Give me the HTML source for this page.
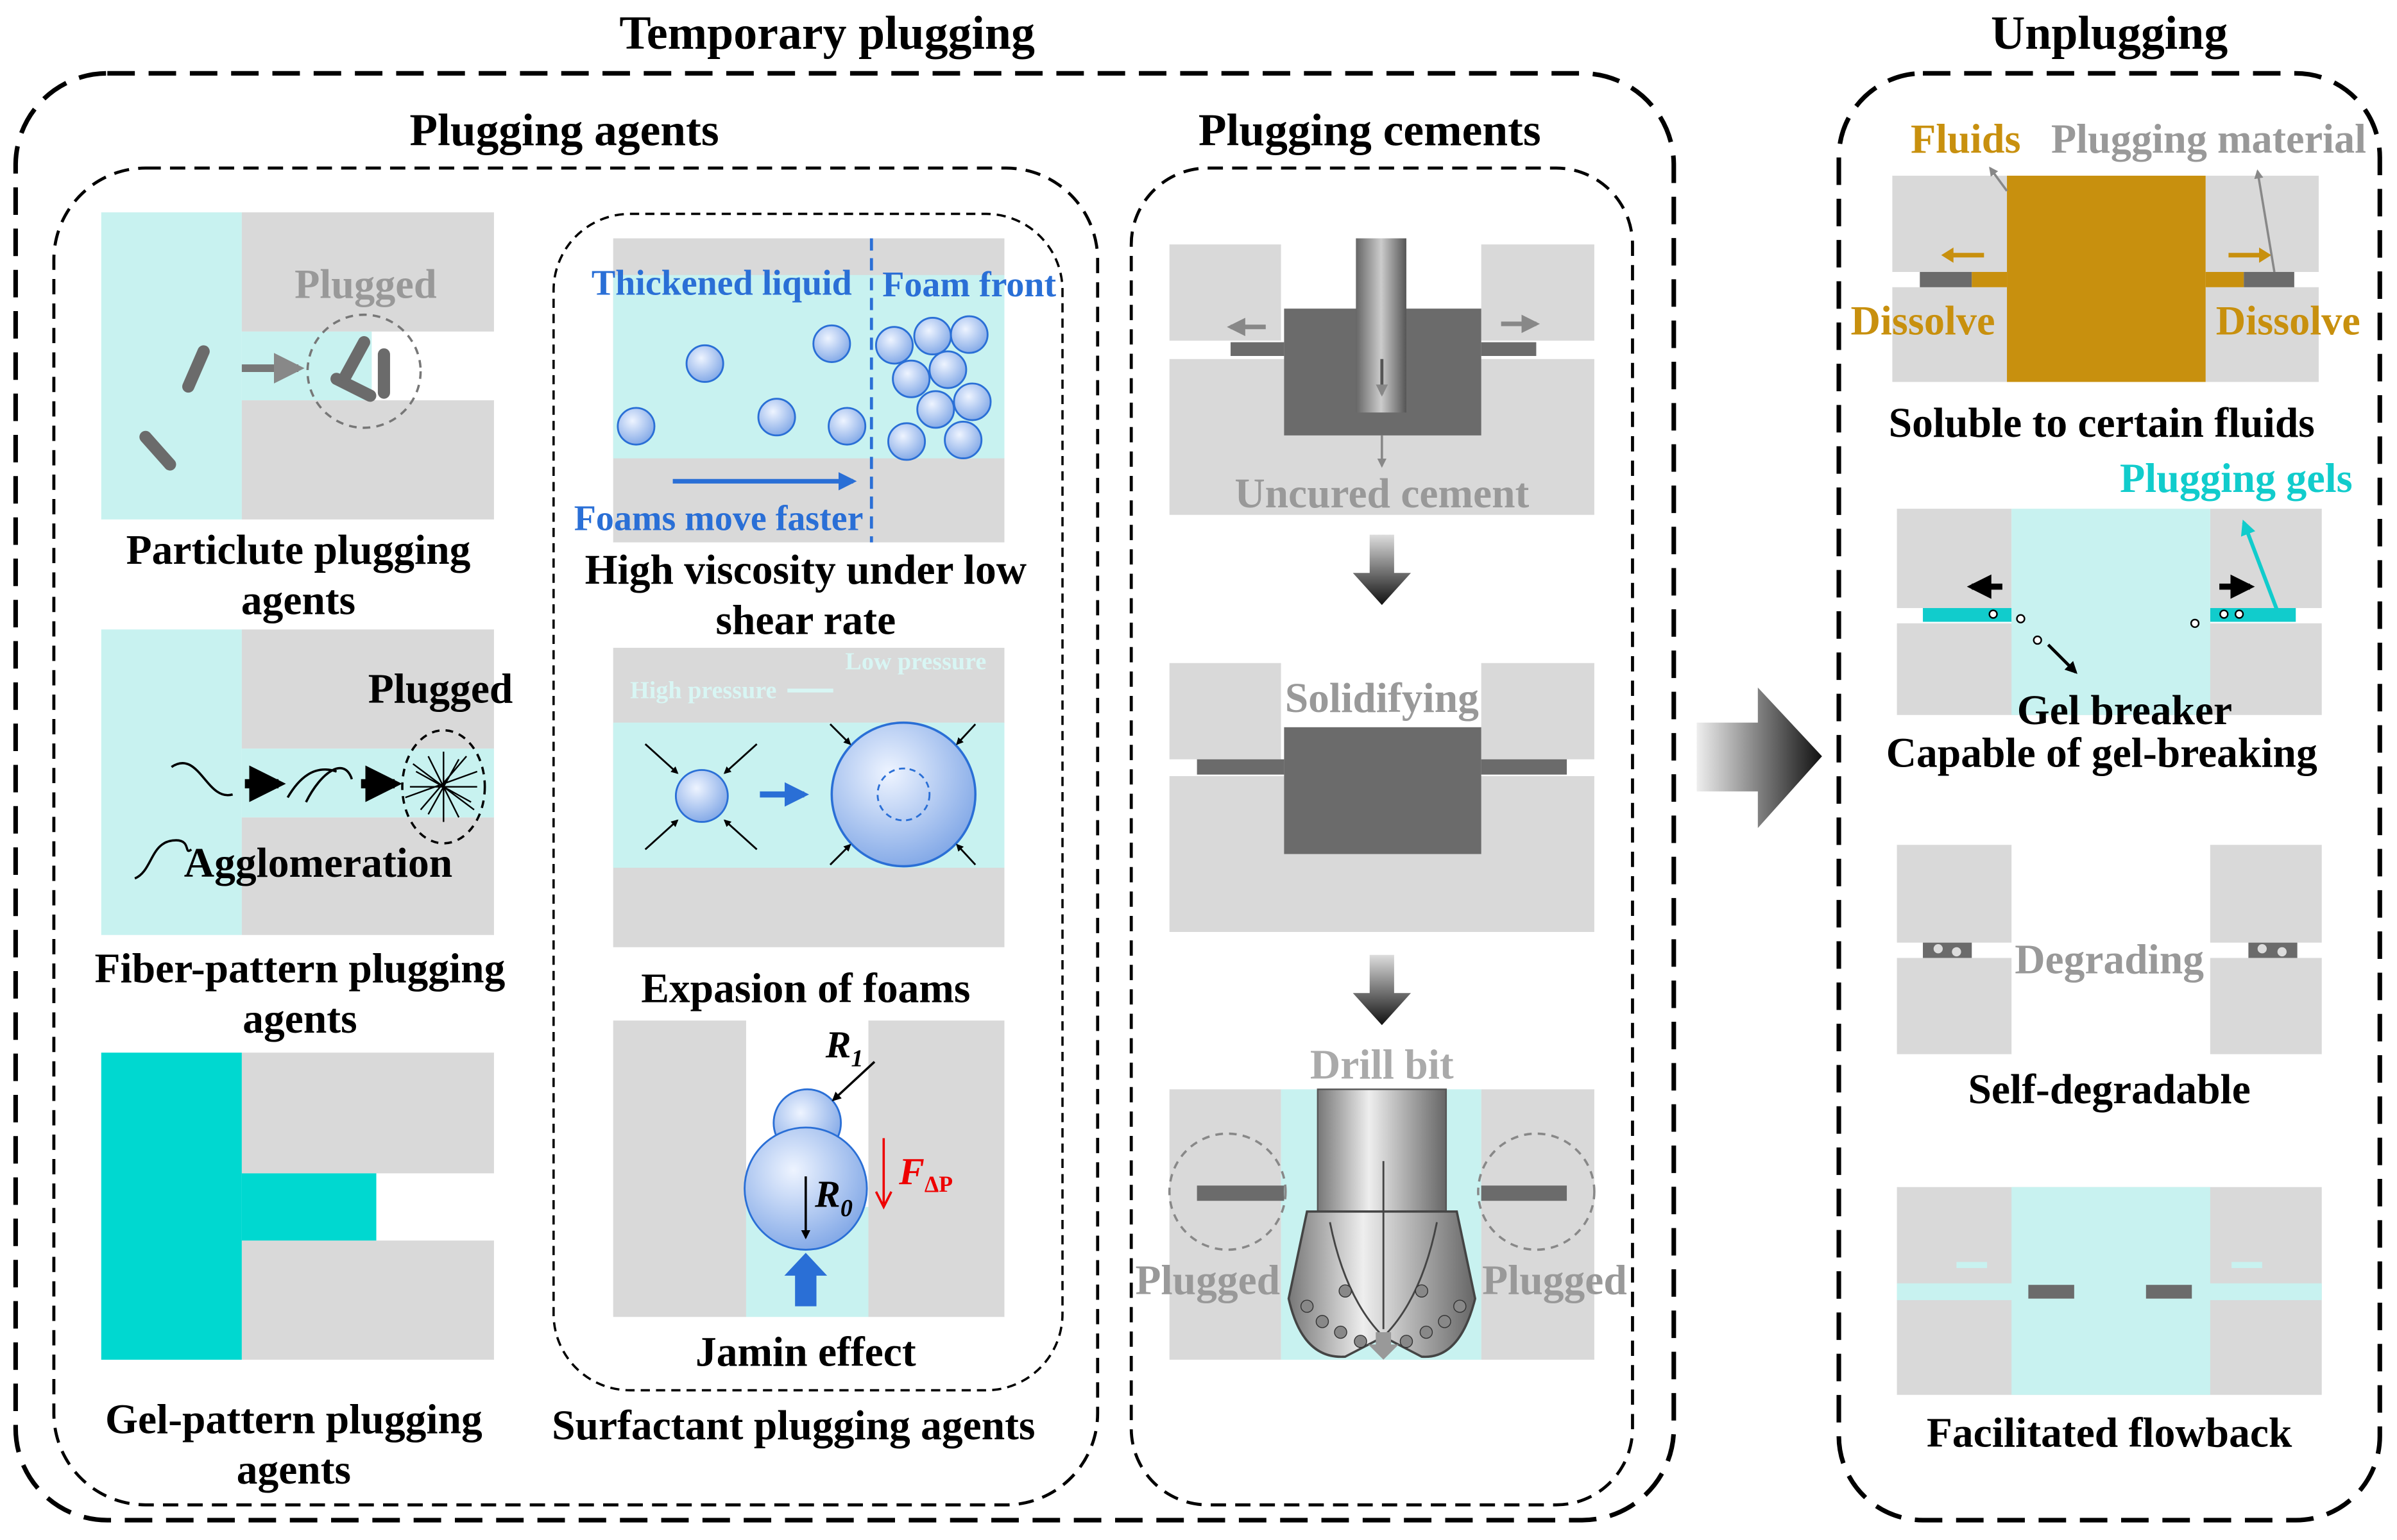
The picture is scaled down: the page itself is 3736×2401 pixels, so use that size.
<!DOCTYPE html>
<html><head><meta charset="utf-8"><style>
html,body{margin:0;padding:0;background:#fff;}
svg{display:block;}
text{font-family:"Liberation Serif",serif;font-weight:bold;}
</style></head><body>
<svg width="3736" height="2401" viewBox="0 0 1568 1008" xmlns="http://www.w3.org/2000/svg">
<defs>
<radialGradient id="bub" cx="0.4" cy="0.35" r="0.7"><stop offset="0" stop-color="#eef4ff"/><stop offset="1" stop-color="#7fa6e6"/></radialGradient>
<linearGradient id="ar" x1="0" y1="0" x2="0" y2="1"><stop offset="0" stop-color="#ddd"/><stop offset="1" stop-color="#111"/></linearGradient>
<linearGradient id="arh" x1="0" y1="0" x2="1" y2="0"><stop offset="0" stop-color="#eee"/><stop offset="1" stop-color="#111"/></linearGradient>
<linearGradient id="pipe" x1="0" y1="0" x2="1" y2="0"><stop offset="0" stop-color="#666"/><stop offset="0.5" stop-color="#ccc"/><stop offset="1" stop-color="#555"/></linearGradient>
<linearGradient id="bit" x1="0" y1="0" x2="1" y2="0"><stop offset="0" stop-color="#777"/><stop offset="0.4" stop-color="#eee"/><stop offset="1" stop-color="#666"/></linearGradient>
<marker id="mk" viewBox="0 0 10 10" refX="8" refY="5" markerWidth="4" markerHeight="4" orient="auto"><path d="M0,0L10,5L0,10z" fill="#000"/></marker>
<marker id="mkb" viewBox="0 0 10 10" refX="8" refY="5" markerWidth="4" markerHeight="4" orient="auto"><path d="M0,0L10,5L0,10z" fill="#2a6fd6"/></marker>
<marker id="mkg" viewBox="0 0 10 10" refX="8" refY="5" markerWidth="4" markerHeight="4" orient="auto"><path d="M0,0L10,5L0,10z" fill="#888"/></marker>
<marker id="mkt" viewBox="0 0 10 10" refX="8" refY="5" markerWidth="4" markerHeight="4" orient="auto"><path d="M0,0L10,5L0,10z" fill="#11cccc"/></marker>
</defs>

<text x="541" y="32" font-size="31" text-anchor="middle">Temporary plugging</text>
<text x="1380" y="32" font-size="31" text-anchor="middle">Unplugging</text>
<text x="369" y="95" font-size="30" text-anchor="middle">Plugging agents</text>
<text x="896" y="95" font-size="30" text-anchor="middle">Plugging cements</text>

<rect x="10" y="48" width="1085" height="947" rx="60" fill="none" stroke="#000" stroke-width="3" stroke-dasharray="18 9"/>
<rect x="1203" y="48" width="354" height="947" rx="55" fill="none" stroke="#000" stroke-width="3" stroke-dasharray="18 9"/>
<rect x="35" y="110" width="683" height="875" rx="60" fill="none" stroke="#000" stroke-width="2" stroke-dasharray="10 6"/>
<rect x="362" y="140" width="333" height="770" rx="50" fill="none" stroke="#000" stroke-width="1.5" stroke-dasharray="6 4"/>
<rect x="740" y="110" width="328" height="875" rx="50" fill="none" stroke="#000" stroke-width="2" stroke-dasharray="10 6"/>

<polygon points="1110,473 1150,473 1150,450 1192,495 1150,542 1150,518 1110,518" fill="url(#arh)"/>

<!-- Particulate -->
<rect x="66" y="139" width="92" height="201" fill="#c8f2f0"/>
<rect x="158" y="139" width="165" height="78" fill="#d9d9d9"/>
<rect x="158" y="262" width="165" height="78" fill="#d9d9d9"/>
<rect x="158" y="217" width="85" height="45" fill="#c8f2f0"/>
<text x="239" y="195" font-size="27" fill="#999" text-anchor="middle">Plugged</text>
<g stroke="#6b6b6b" stroke-width="8" stroke-linecap="round">
<line x1="123" y1="253" x2="133" y2="230"/><line x1="95" y1="286" x2="111" y2="304"/>
<line x1="220" y1="248" x2="242" y2="259"/><line x1="226" y1="246" x2="238" y2="224"/><line x1="251" y1="232" x2="251" y2="257"/>
</g>
<line x1="158" y1="241" x2="195" y2="241" stroke="#777" stroke-width="5" marker-end="url(#mkg)"/>
<circle cx="238" cy="243" r="37" fill="none" stroke="#777" stroke-width="1.5" stroke-dasharray="5 4"/>
<text x="195" y="369" font-size="27.5" text-anchor="middle">Particlute plugging</text>
<text x="195" y="402" font-size="27.5" text-anchor="middle">agents</text>

<!-- Fiber -->
<rect x="66" y="412" width="92" height="200" fill="#c8f2f0"/>
<rect x="158" y="412" width="165" height="78" fill="#d9d9d9"/>
<rect x="158" y="535" width="165" height="77" fill="#d9d9d9"/>
<rect x="158" y="490" width="165" height="45" fill="#c8f2f0"/>
<text x="288" y="460" font-size="27.5" text-anchor="middle">Plugged</text>
<path d="M112,502 C130,490 135,525 152,520" fill="none" stroke="#000" stroke-width="1.5"/>
<path d="M188,522 C195,510 205,500 220,505 M200,525 C210,505 225,495 230,510" fill="none" stroke="#000" stroke-width="1.5"/>
<path d="M88,575 C100,570 98,550 115,550 C125,550 120,560 125,556" fill="none" stroke="#000" stroke-width="1.5"/>
<g stroke="#000" stroke-width="1"><path d="M270,500 L310,530 M275,530 L305,495 M268,515 L312,515 M290,492 L290,538 M272,505 L308,525 M280,495 L300,535 M300,497 L280,533 M265,522 L312,505"/></g>
<line x1="160" y1="513" x2="182" y2="513" stroke="#000" stroke-width="6" marker-end="url(#mk)"/>
<line x1="236" y1="513" x2="258" y2="513" stroke="#000" stroke-width="6" marker-end="url(#mk)"/>
<ellipse cx="290" cy="515" rx="27" ry="37" fill="none" stroke="#000" stroke-width="1.5" stroke-dasharray="5 4"/>
<text x="208" y="574" font-size="27.5" text-anchor="middle">Agglomeration</text>
<text x="196" y="643" font-size="27.5" text-anchor="middle">Fiber-pattern plugging</text>
<text x="196" y="676" font-size="27.5" text-anchor="middle">agents</text>

<!-- Gel -->
<rect x="66" y="689" width="92" height="201" fill="#00d8d0"/>
<rect x="158" y="689" width="165" height="79" fill="#d9d9d9"/>
<rect x="158" y="812" width="165" height="78" fill="#d9d9d9"/>
<rect x="158" y="768" width="88" height="44" fill="#00d8d0"/>
<text x="192" y="938" font-size="27.5" text-anchor="middle">Gel-pattern plugging</text>
<text x="192" y="971" font-size="27.5" text-anchor="middle">agents</text>

<!-- Surfactant panel 1 -->
<rect x="401" y="156" width="256" height="199" fill="#d9d9d9"/>
<rect x="401" y="180" width="256" height="120" fill="#c8f2f0"/>
<line x1="570" y1="156" x2="570" y2="355" stroke="#2a6fd6" stroke-width="2" stroke-dasharray="8 5"/>
<g fill="url(#bub)" stroke="#2a6fd6" stroke-width="1.2">
<circle cx="461" cy="238" r="12"/><circle cx="544" cy="225" r="12"/><circle cx="416" cy="279" r="12"/><circle cx="508" cy="273" r="12"/><circle cx="554" cy="279" r="12"/>
<circle cx="585" cy="226" r="12"/><circle cx="610" cy="220" r="12"/><circle cx="634" cy="219" r="12"/><circle cx="596" cy="248" r="12"/><circle cx="620" cy="242" r="12"/><circle cx="612" cy="268" r="12"/><circle cx="636" cy="263" r="12"/><circle cx="593" cy="289" r="12"/><circle cx="630" cy="288" r="12"/>
</g>
<text x="472" y="193" font-size="23.5" fill="#2a6fd6" text-anchor="middle">Thickened liquid</text>
<text x="634" y="194" font-size="23.5" fill="#2a6fd6" text-anchor="middle">Foam front</text>
<line x1="440" y1="315" x2="558" y2="315" stroke="#2a6fd6" stroke-width="3" marker-end="url(#mkb)"/>
<text x="470" y="347" font-size="23.5" fill="#2a6fd6" text-anchor="middle">Foams move faster</text>
<text x="527" y="382" font-size="27.5" text-anchor="middle">High viscosity under low</text>
<text x="527" y="415" font-size="27.5" text-anchor="middle">shear rate</text>

<!-- Surfactant panel 2 -->
<rect x="401" y="424" width="256" height="196" fill="#d9d9d9"/>
<rect x="401" y="473" width="256" height="95" fill="#c8f2f0"/>
<text x="460" y="457" font-size="16" fill="#d8f6f4" font-weight="normal" text-anchor="middle">High pressure</text>
<line x1="515" y1="452" x2="545" y2="452" stroke="#d8f6f4" stroke-width="2.5"/>
<text x="599" y="438" font-size="16" fill="#d8f6f4" font-weight="normal" text-anchor="middle">Low pressure</text>
<circle cx="459" cy="521" r="17" fill="url(#bub)" stroke="#2a6fd6" stroke-width="1.2"/>
<circle cx="591" cy="520" r="47" fill="url(#bub)" stroke="#2a6fd6" stroke-width="1.5"/>
<circle cx="591" cy="520" r="17" fill="none" stroke="#2a6fd6" stroke-width="1.2" stroke-dasharray="4 3"/>
<g stroke="#000" stroke-width="1.2" marker-end="url(#mk)">
<line x1="422" y1="487" x2="443" y2="506"/><line x1="495" y1="487" x2="474" y2="506"/><line x1="422" y1="556" x2="443" y2="537"/><line x1="495" y1="556" x2="474" y2="537"/>
<line x1="543" y1="474" x2="556" y2="487"/><line x1="638" y1="474" x2="626" y2="487"/><line x1="543" y1="566" x2="556" y2="553"/><line x1="638" y1="566" x2="626" y2="553"/>
</g>
<line x1="497" y1="520" x2="526" y2="520" stroke="#2a6fd6" stroke-width="4" marker-end="url(#mkb)"/>
<text x="527" y="656" font-size="27.5" text-anchor="middle">Expasion of foams</text>

<!-- Surfactant panel 3 -->
<rect x="401" y="668" width="87" height="194" fill="#d9d9d9"/>
<rect x="568" y="668" width="89" height="194" fill="#d9d9d9"/>
<rect x="488" y="790" width="80" height="72" fill="#c8f2f0"/>
<circle cx="528" cy="735" r="22" fill="url(#bub)" stroke="#2a6fd6" stroke-width="1.2"/>
<circle cx="527" cy="778" r="40" fill="url(#bub)" stroke="#2a6fd6" stroke-width="1.2"/>
<line x1="572" y1="695" x2="545" y2="720" stroke="#000" stroke-width="1.5" marker-end="url(#mk)"/>
<line x1="527" y1="770" x2="527" y2="810" stroke="#000" stroke-width="1.5" marker-end="url(#mk)"/>
<text x="540" y="692" font-size="25" font-style="italic">R<tspan font-size="16" dy="6">1</tspan></text>
<text x="533" y="790" font-size="25" font-style="italic">R<tspan font-size="16" dy="6">0</tspan></text>
<line x1="578" y1="745" x2="578" y2="788" stroke="#e00" stroke-width="1.5"/>
<path d="M573,780 L578,790 L583,780" fill="none" stroke="#e00" stroke-width="1.5"/>
<text x="588" y="775" font-size="25" fill="#e00" font-style="italic">F<tspan font-size="15" dy="5" font-style="normal">ΔP</tspan></text>
<polygon points="520,855 534,855 534,835 541,835 527,820 513,835 520,835" fill="#2a6fd6"/>
<text x="527" y="894" font-size="27.5" text-anchor="middle">Jamin effect</text>
<text x="519" y="942" font-size="27.5" text-anchor="middle">Surfactant plugging agents</text>

<!-- Cement panel 1 -->
<rect x="765" y="160" width="73" height="63" fill="#d9d9d9"/>
<rect x="969" y="160" width="74" height="63" fill="#d9d9d9"/>
<rect x="765" y="235" width="278" height="102" fill="#d9d9d9"/>
<rect x="805" y="224" width="35" height="9" fill="#6b6b6b"/>
<rect x="969" y="224" width="36" height="9" fill="#6b6b6b"/>
<rect x="840" y="202" width="129" height="83" fill="#6b6b6b"/>
<rect x="887" y="156" width="33" height="114" fill="url(#pipe)"/>
<line x1="904" y1="235" x2="904" y2="258" stroke="#555" stroke-width="2" marker-end="url(#mkg)"/>
<line x1="904" y1="285" x2="904" y2="305" stroke="#888" stroke-width="1.5" marker-end="url(#mkg)"/>
<line x1="828" y1="214" x2="805" y2="214" stroke="#888" stroke-width="3" marker-end="url(#mkg)"/>
<line x1="982" y1="212" x2="1005" y2="212" stroke="#888" stroke-width="3" marker-end="url(#mkg)"/>
<text x="904" y="332" font-size="27.5" fill="#999" text-anchor="middle">Uncured cement</text>
<polygon points="896,350 912,350 912,375 923,375 904,396 885,375 896,375" fill="url(#ar)"/>

<!-- Cement panel 2 -->
<rect x="765" y="434" width="73" height="63" fill="#d9d9d9"/>
<rect x="969" y="434" width="74" height="63" fill="#d9d9d9"/>
<rect x="765" y="508" width="278" height="102" fill="#d9d9d9"/>
<rect x="783" y="497" width="57" height="10" fill="#6b6b6b"/>
<rect x="969" y="497" width="56" height="10" fill="#6b6b6b"/>
<rect x="840" y="476" width="129" height="83" fill="#6b6b6b"/>
<text x="904" y="466" font-size="27.5" fill="#999" text-anchor="middle">Solidifying</text>
<polygon points="896,625 912,625 912,650 923,650 904,671 885,650 896,650" fill="url(#ar)"/>

<!-- Cement panel 3 -->
<rect x="765" y="713" width="73" height="177" fill="#d9d9d9"/>
<rect x="969" y="713" width="74" height="177" fill="#d9d9d9"/>
<rect x="838" y="713" width="131" height="177" fill="#c8f2f0"/>
<rect x="783" y="776" width="57" height="10" fill="#6b6b6b"/>
<rect x="969" y="776" width="56" height="10" fill="#6b6b6b"/>
<circle cx="803" cy="780" r="38" fill="none" stroke="#888" stroke-width="1.5" stroke-dasharray="5 4"/>
<circle cx="1005" cy="780" r="38" fill="none" stroke="#888" stroke-width="1.5" stroke-dasharray="5 4"/>
<rect x="862" y="713" width="84" height="80" fill="url(#bit)" stroke="#555" stroke-width="1"/>
<path d="M855,793 L953,793 L965,850 Q955,890 930,888 L905,875 L880,888 Q852,890 843,850 Z" fill="url(#bit)" stroke="#444" stroke-width="1.5"/>
<path d="M870,800 Q880,850 905,875 M940,800 Q930,850 905,875 M905,760 L905,870" fill="none" stroke="#444" stroke-width="1.2"/>
<g fill="#888" stroke="#333" stroke-width="0.6">
<circle cx="855" cy="855" r="4"/><circle cx="865" cy="865" r="4"/><circle cx="877" cy="872" r="4"/><circle cx="890" cy="878" r="4"/><circle cx="920" cy="878" r="4"/><circle cx="933" cy="872" r="4"/><circle cx="945" cy="865" r="4"/><circle cx="955" cy="855" r="4"/><circle cx="880" cy="845" r="4"/><circle cx="930" cy="845" r="4"/>
</g>
<polygon points="900,872 910,872 910,880 915,880 905,890 895,880 900,880" fill="#999"/>
<text x="904" y="706" font-size="27.5" fill="#aaa" text-anchor="middle">Drill bit</text>
<text x="790" y="847" font-size="27.5" fill="#999" text-anchor="middle">Plugged</text>
<text x="1017" y="847" font-size="27.5" fill="#999" text-anchor="middle">Plugged</text>

<!-- Unplug panel 1 -->
<rect x="1238" y="115" width="75" height="63" fill="#d9d9d9"/>
<rect x="1443" y="115" width="74" height="63" fill="#d9d9d9"/>
<rect x="1238" y="188" width="279" height="62" fill="#d9d9d9"/>
<rect x="1256" y="178" width="34" height="10" fill="#6b6b6b"/>
<rect x="1290" y="178" width="23" height="10" fill="#c8900e"/>
<rect x="1443" y="178" width="25" height="10" fill="#c8900e"/>
<rect x="1468" y="178" width="33" height="10" fill="#6b6b6b"/>
<rect x="1313" y="115" width="130" height="135" fill="#c8900e"/>
<line x1="1298" y1="167" x2="1276" y2="167" stroke="#c8900e" stroke-width="3"/>
<line x1="1458" y1="167" x2="1480" y2="167" stroke="#c8900e" stroke-width="3"/>
<path d="M1478,162 L1486,167 L1478,172z" fill="#c8900e"/>
<path d="M1278,162 L1270,167 L1278,172z" fill="#c8900e"/>
<line x1="1313" y1="125" x2="1302" y2="110" stroke="#888" stroke-width="1.5" marker-end="url(#mkg)"/>
<line x1="1488" y1="178" x2="1477" y2="112" stroke="#888" stroke-width="1.5" marker-end="url(#mkg)"/>
<text x="1286" y="100" font-size="27" fill="#c8900e" text-anchor="middle">Fluids</text>
<text x="1445" y="100" font-size="27" fill="#999" text-anchor="middle">Plugging material</text>
<text x="1258" y="219" font-size="27" fill="#c8900e" text-anchor="middle">Dissolve</text>
<text x="1497" y="219" font-size="27" fill="#c8900e" text-anchor="middle">Dissolve</text>
<text x="1375" y="286" font-size="27.5" text-anchor="middle">Soluble to certain fluids</text>

<!-- Unplug panel 2 -->
<rect x="1241" y="333" width="75" height="65" fill="#d9d9d9"/>
<rect x="1446" y="333" width="73" height="65" fill="#d9d9d9"/>
<rect x="1241" y="408" width="278" height="60" fill="#d9d9d9"/>
<rect x="1316" y="333" width="130" height="135" fill="#c8f2f0"/>
<rect x="1258" y="398" width="58" height="9" fill="#11cccc"/>
<rect x="1446" y="398" width="56" height="9" fill="#11cccc"/>
<rect x="1316" y="398" width="130" height="10" fill="#c8f2f0"/>
<g fill="#fff" stroke="#000" stroke-width="1"><circle cx="1304" cy="402" r="2.5"/><circle cx="1322" cy="405" r="2.5"/><circle cx="1333" cy="419" r="2.5"/><circle cx="1436" cy="408" r="2.5"/><circle cx="1455" cy="402" r="2.5"/><circle cx="1465" cy="402" r="2.5"/></g>
<line x1="1310" y1="384" x2="1290" y2="384" stroke="#000" stroke-width="4" marker-end="url(#mk)"/>
<line x1="1452" y1="384" x2="1472" y2="384" stroke="#000" stroke-width="4" marker-end="url(#mk)"/>
<line x1="1340" y1="422" x2="1358" y2="440" stroke="#000" stroke-width="2" marker-end="url(#mk)"/>
<line x1="1490" y1="400" x2="1468" y2="342" stroke="#11cccc" stroke-width="2.5" marker-end="url(#mkt)"/>
<text x="1463" y="322" font-size="27" fill="#11cccc" text-anchor="middle">Plugging gels</text>
<text x="1390" y="474" font-size="27.5" text-anchor="middle">Gel breaker</text>
<text x="1375" y="502" font-size="27.5" text-anchor="middle">Capable of gel-breaking</text>

<!-- Unplug panel 3 -->
<rect x="1241" y="553" width="75" height="64" fill="#d9d9d9"/>
<rect x="1446" y="553" width="73" height="64" fill="#d9d9d9"/>
<rect x="1241" y="627" width="75" height="63" fill="#d9d9d9"/>
<rect x="1446" y="627" width="73" height="63" fill="#d9d9d9"/>
<rect x="1258" y="617" width="32" height="10" fill="#6b6b6b"/>
<rect x="1471" y="617" width="32" height="10" fill="#6b6b6b"/>
<g fill="#ddd"><circle cx="1268" cy="621" r="3"/><circle cx="1280" cy="623" r="3"/><circle cx="1480" cy="621" r="3"/><circle cx="1493" cy="623" r="3"/></g>
<text x="1380" y="637" font-size="27.5" fill="#999" text-anchor="middle">Degrading</text>
<text x="1380" y="722" font-size="27.5" text-anchor="middle">Self-degradable</text>

<!-- Unplug panel 4 -->
<rect x="1241" y="777" width="278" height="136" fill="#d9d9d9"/>
<rect x="1316" y="777" width="130" height="136" fill="#c8f2f0"/>
<rect x="1241" y="840" width="278" height="11" fill="#c8f2f0"/>
<rect x="1327" y="841" width="30" height="9" fill="#6b6b6b"/>
<rect x="1404" y="841" width="30" height="9" fill="#6b6b6b"/>
<line x1="1280" y1="828" x2="1300" y2="828" stroke="#c8f2f0" stroke-width="4"/>
<line x1="1480" y1="828" x2="1460" y2="828" stroke="#c8f2f0" stroke-width="4"/>
<text x="1380" y="947" font-size="27.5" text-anchor="middle">Facilitated flowback</text>
</svg>
</body></html>
